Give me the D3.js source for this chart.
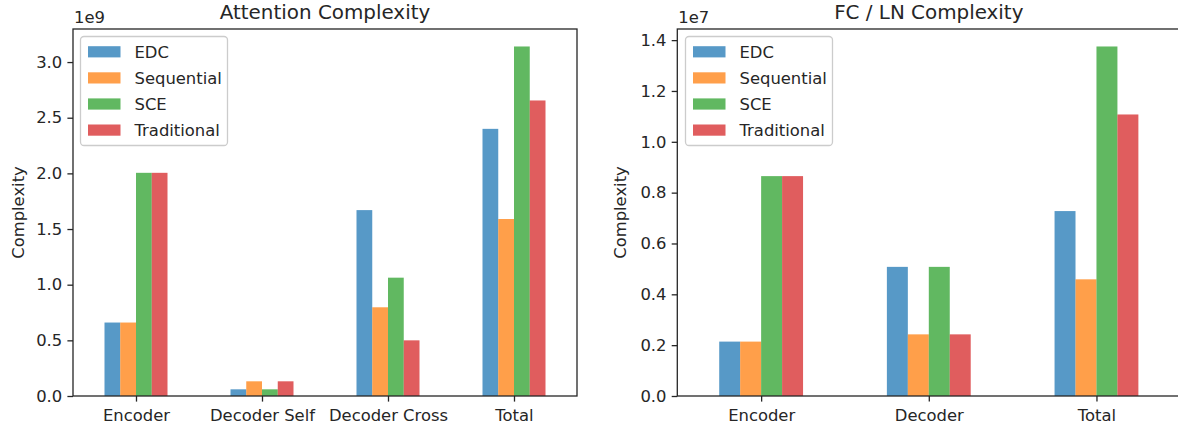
<!DOCTYPE html>
<html>
<head>
<meta charset="utf-8">
<script src="https://cdn.jsdelivr.net/npm/d3@7"></script>
<style>
  html, body { margin: 0; padding: 0; background: #fff; }
  svg { display: block; font-family: "DejaVu Sans", sans-serif; }
</style>
</head>
<body>
<svg id="chart" width="1178" height="430"></svg>
<script>
// ---------- DATA ----------
const seriesNames = ["EDC", "Sequential", "SCE", "Traditional"];
const seriesColors = ["#1f77b4", "#ff7f0e", "#2ca02c", "#d62728"];

const attnCategories = ["Encoder", "Decoder Self", "Decoder Cross", "Total"];
const attnEDC         = [0.66e9, 0.06e9, 1.67e9, 2.40e9];
const attnSequential  = [0.66e9, 0.132e9, 0.797e9, 1.59e9];
const attnSCE         = [2.005e9, 0.06e9, 1.063e9, 3.14e9];
const attnTraditional = [2.005e9, 0.132e9, 0.50e9, 2.655e9];
const attnTicks = [0.0, 0.5, 1.0, 1.5, 2.0, 2.5, 3.0];

const fcCategories = ["Encoder", "Decoder", "Total"];
const fcEDC         = [0.214e7, 0.508e7, 0.7275e7];
const fcSequential  = [0.214e7, 0.2425e7, 0.459e7];
const fcSCE         = [0.865e7, 0.508e7, 1.375e7];
const fcTraditional = [0.865e7, 0.2425e7, 1.1075e7];
const fcTicks = [0.0, 0.2, 0.4, 0.6, 0.8, 1.0, 1.2, 1.4];

// ---------- DRAW ----------
const svg = d3.select("#chart");
const textColor = "#262626";
const fontSize = 16.4;

function drawPanel(opts) {
  const { left, right, top, bottom, categories, series, ticks, expLabel, exp, title, legendX } = opts;
  const g = svg.append("g");
  const maxV = d3.max(series.flat());
  const x = d3.scaleLinear().domain([-0.5, categories.length - 0.5]).range([left, right]);
  const y = d3.scaleLinear().domain([0, maxV * 1.05]).range([bottom, top]);
  const k = series.length;
  const w = 0.5 / k;

  // bars
  series.forEach((vals, j) => {
    g.append("g").selectAll("rect").data(vals).join("rect")
      .attr("x", (d, i) => x(i + (j - (k - 1) / 2) * w - w / 2))
      .attr("width", x(w) - x(0))
      .attr("y", d => y(d))
      .attr("height", d => y(0) - y(d))
      .attr("fill", seriesColors[j])
      .attr("fill-opacity", 0.75);
  });

  // y axis
  const yAxis = d3.axisLeft(y)
    .tickValues(ticks.map(t => t * Math.pow(10, exp)))
    .tickFormat(d => (d / Math.pow(10, exp)).toFixed(1))
    .tickSizeOuter(0).tickSize(5.6).tickPadding(5.2);
  const ya = g.append("g").attr("transform", `translate(${left},0)`).call(yAxis);
  ya.select(".domain").remove();
  ya.selectAll("line").attr("stroke", textColor).attr("stroke-width", 1.3);
  ya.selectAll("text").attr("font-size", fontSize).attr("fill", textColor)
    .attr("font-family", "DejaVu Sans");

  // x axis
  const xAxis = d3.axisBottom(x)
    .tickValues(d3.range(categories.length))
    .tickFormat(i => categories[i])
    .tickSizeOuter(0).tickSize(5.6).tickPadding(7.5);
  const xa = g.append("g").attr("transform", `translate(0,${bottom})`).call(xAxis);
  xa.select(".domain").remove();
  xa.selectAll("line").attr("stroke", textColor).attr("stroke-width", 1.3);
  xa.selectAll("text").attr("font-size", fontSize).attr("fill", textColor)
    .attr("font-family", "DejaVu Sans");

  // frame
  g.append("rect")
    .attr("x", left).attr("y", top)
    .attr("width", right - left).attr("height", bottom - top)
    .attr("fill", "none").attr("stroke", textColor).attr("stroke-width", 1.3);

  // exponent label
  g.append("text").attr("x", left + 1).attr("y", 23)
    .attr("font-size", fontSize).attr("fill", textColor).text(expLabel);

  // title
  g.append("text").attr("x", (left + right) / 2).attr("y", 19)
    .attr("text-anchor", "middle").attr("font-size", 19.9).attr("fill", textColor).text(title);

  // y label
  g.append("text")
    .attr("transform", `translate(${opts.ylabelX},${(top + bottom) / 2}) rotate(-90)`)
    .attr("text-anchor", "middle").attr("font-size", fontSize).attr("fill", textColor)
    .text("Complexity");

  // legend
  const lg = g.append("g").attr("transform", `translate(${legendX},${top + 7.5})`);
  lg.append("rect").attr("x", 0).attr("y", 0).attr("width", 147).attr("height", 109)
    .attr("rx", 3.5).attr("fill", "#fff").attr("fill-opacity", 0.8)
    .attr("stroke", "#cccccc").attr("stroke-width", 1.3);
  seriesNames.forEach((name, j) => {
    const cy = 15.3 + j * 26.1;
    lg.append("rect").attr("x", 7.5).attr("y", cy - 5.6).attr("width", 32.5).attr("height", 11.2)
      .attr("fill", seriesColors[j]).attr("fill-opacity", 0.75);
    lg.append("text").attr("x", 54).attr("y", cy + 5.9)
      .attr("font-size", fontSize).attr("fill", textColor).text(name);
  });
}

drawPanel({
  left: 73, right: 577, top: 29, bottom: 396,
  categories: attnCategories,
  series: [attnEDC, attnSequential, attnSCE, attnTraditional],
  ticks: attnTicks, exp: 9, expLabel: "1e9",
  title: "Attention Complexity", legendX: 80.5, ylabelX: 23.5
});

drawPanel({
  left: 677.3, right: 1180.3, top: 29, bottom: 396,
  categories: fcCategories,
  series: [fcEDC, fcSequential, fcSCE, fcTraditional],
  ticks: fcTicks, exp: 7, expLabel: "1e7",
  title: "FC / LN Complexity", legendX: 685.5, ylabelX: 626
});
</script>
</body>
</html>
